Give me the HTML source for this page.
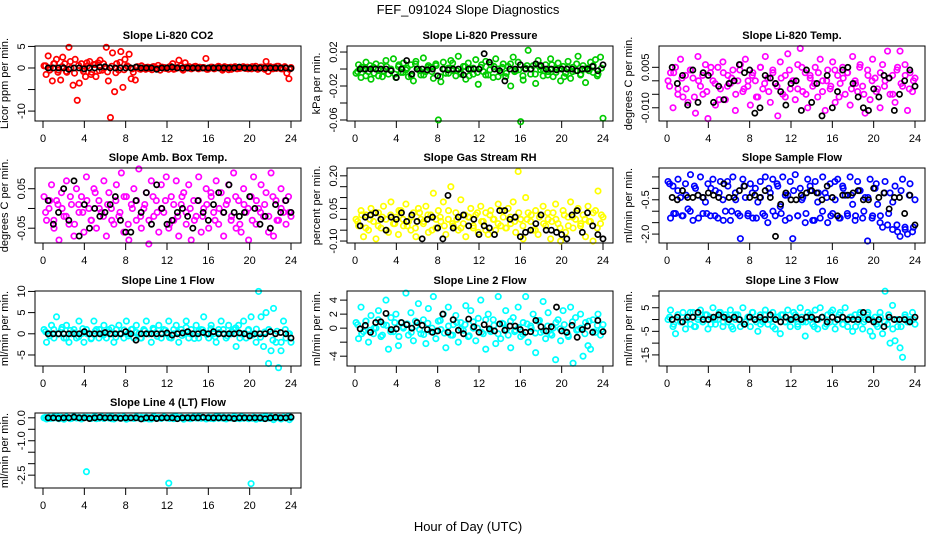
<!DOCTYPE html>
<html><head><meta charset="utf-8"><style>
body{margin:0;background:#fff;}
svg{display:block;font-family:"Liberation Sans",sans-serif;}
</style></head><body>
<svg id="chart" width="936" height="540" viewBox="0 0 936 540" xmlns="http://www.w3.org/2000/svg">
<rect x="0" y="0" width="936" height="540" fill="#fff"/>
<text x="468" y="14" font-size="13" text-anchor="middle">FEF_091024  Slope Diagnostics</text>
<text x="468" y="531" font-size="13" text-anchor="middle">Hour of Day (UTC)</text>
</svg>
<script>
// ---- data ----
const xTicks=[0,4,8,12,16,20,24];
const titles=["Slope Li-820 CO2","Slope Li-820 Pressure","Slope Li-820 Temp.","Slope Amb. Box Temp.","Slope Gas Stream RH","Slope Sample Flow","Slope Line 1 Flow","Slope Line 2 Flow","Slope Line 3 Flow","Slope Line 4 (LT) Flow"];
const yTitles=["Licor ppm per min.","kPa per min.","degrees C per min.","degrees C per min.","percent per min.","ml/min per min.","ml/min per min.","ml/min per min.","ml/min per min.","ml/min per min."];
const colors=["#ff0000","#00cc00","#ff00ff","#ff00ff","#ffff00","#0000ff","#00ffff","#00ffff","#00ffff","#00ffff"];
const yTickVals=[[5,0,-5,-10],[0.02,0,-0.02,-0.04,-0.06],[0.005,0,-0.005,-0.01],[0.05,0,-0.05],[0.2,0.15,0.1,0.05,0,-0.05,-0.1],[0.5,0,-0.5,-1,-1.5,-2],[10,5,0,-5],[4,2,0,-2,-4],[10,5,0,-5,-10,-15],[0,-0.5,-1,-1.5,-2,-2.5]];
const yTickLabels=[["5","0","","-10"],["0.02","","-0.02","","-0.06"],["0.005","","","-0.010"],["0.05","","-0.05"],["0.20","","","0.05","","","-0.10"],["","","-0.5","","","-2.0"],["10","5","0","-5"],["4","2","0","","-4"],["","5","","-5","","-15"],["0.0","","-1.0","","","-2.5"]];
const yLims=[[5.1,-12.3],[0.0271,-0.0612],[0.0129,-0.0149],[0.1025,-0.0875],[0.236,-0.109],[0.89,-2.39],[10.1,-7.6],[5.3,-5.4],[12.1,-19.7],[0.21,-3.06]];
const scales=[1,0.001,0.001,0.01,0.01,0.1,1,0.1,1,0.01];

const c1=[0.5,-1.5,2.8,0,-3,1,2,-0.5,-2.8,2.5,1,-1,4.8,0,-4,2,-7.5,-3.5,1,-0.8,-2,0.5,1.5,-1,0.8,-2,1.2,1.8,-0.5,0,4.8,-3,-11.5,3.5,-5.5,1,-0.5,3.8,-4.5,2,0.5,3.2,-2.5,-1,-2.8,0.3,-0.2,0.5,0,-0.3,0.2,0.1,-0.4,0.3,0,0.6,-0.5,0.2,0.1,0,-0.3,0.4,1,-0.2,0,1.8,0.5,-0.5,1.2,0,0.3,-0.2,0,0.4,-0.1,0.2,0,0.1,2.2,-0.3,0,0.2,-0.2,0.1,0.4,0,-0.5,0.3,0.1,-0.4,0.2,0,0.3,-0.2,0.1,0,0.3,-0.1,0.2,0,-0.2,0.1,0.4,-0.3,0,0.2,-0.1,1.5,-0.8,0.3,0,0.2,-0.1,0.4,0,-0.2,0.3,-1.2,-2.5,0.1];
const c2=[-5,5,-10,0,8,-3,-12,2,6,-8,4,-2,10,-6,0,12,-10,3,-4,7,-1,-9,5,-14,9,0,-7,13,-3,4,2,-11,6,-60,-15,8,-5,1,10,-2,-8,15,-4,3,-12,7,0,-6,11,-18,2,-3,9,-7,5,-10,12,0,-4,6,-9,3,-20,14,-2,8,-62,-13,1,22,-6,4,-17,10,-1,-8,5,-3,12,-9,0,7,-14,3,-5,9,-11,2,-2,15,-7,4,-16,1,8,-4,11,-6,14,-58];
const c3=[0,3,-10,5,-3,8,-6,2,-8,4,1,-12,9,-2,-5,6,-14,3,0,-9,5,-3,7,-7,2,-1,4,-11,0,6,-4,8,-2,-9,3,0,-6,5,-3,9,1,-8,4,-1,-13,7,-5,2,10,-3,0,-7,6,12,-4,3,-10,1,-2,5,-6,8,0,-11,4,-3,7,-8,2,-1,5,-5,3,-9,9,0,-4,6,-2,-12,4,-7,8,1,-3,-10,6,0,11,-5,2,-8,5,11,-2,6,-11,3,-4,1];
const c4=[3,-3,0,6,-5,2,-8,4,-2,7,-4,1,-7,5,-1,3,-6,8,0,-3,5,-5,2,-1,7,-7,4,0,-4,6,-2,9,-6,3,-8,1,5,-3,10,-5,0,4,-9,7,-2,2,-6,6,-1,8,-5,3,-3,7,-7,1,4,-4,6,-8,2,-2,8,-6,0,5,-5,3,-1,7,-4,4,-7,1,6,-3,9,-5,2,-6,5,-1,-8,3,8,-4,0,6,-2,4,-6,9,-7,2,-3,5,-1,-4,3,-2];
const c5=[0,-3,4,-8,2,-5,5,-1,-9,3,-4,6,0,-6,8,-2,1,-7,4,-3,7,-1,-5,3,-8,5,0,-2,6,-6,2,12,-4,4,-1,8,-7,0,15,-3,3,-5,9,-2,-8,1,5,-4,2,-6,6,-1,3,-7,4,0,-5,7,-3,1,-4,5,-2,8,-6,22,0,-9,10,3,-1,-5,4,-7,2,6,-3,0,-9,3,7,-2,-10,4,-6,1,8,-4,0,5,-3,2,-8,6,-1,-10,4,13,-2,1];
const c6=[3,-13,1,-11,4,-4,-12,2,-9,6,-14,0,-3,5,-11,-6,2,-12,4,-1,-13,3,-5,-10,1,-14,5,-2,-11,-22,4,-4,-12,2,-13,0,-6,3,-11,5,-15,-2,4,-12,1,-8,5,-14,-3,3,-22,6,-12,0,-4,-15,4,-1,-14,3,-6,-13,5,-2,-15,2,-11,-5,4,-13,1,-3,-12,5,-7,-14,3,-1,-13,-4,-23,4,-12,0,-7,-15,-17,3,-16,-2,-18,1,-19,-21,4,-17,-20,2,-19,-5];
const c7=[1,-2,0,2,-1,4,0,1,-1,2,-2,0,1,-1,3,0,-2,1,0,-1,3,1,-1,0,2,-1,1,0,-2,1,2,0,-1,3,0,1,-1,2,0,-1,1,3,0,-2,1,0,2,-1,1,0,3,-1,0,2,-2,1,0,3,-1,1,0,2,-1,1,4,0,-1,2,0,-2,1,3,0,-1,2,0,1,-3,2,0,3,-1,1,4,0,-2,10,4,-3,5,-7,-4,6,-2,-8,-4,3,-1,0,-2];
const c8=[8,-15,30,-5,10,-20,18,-8,0,25,-12,5,40,-30,15,-5,20,-25,8,0,50,-10,22,-18,3,35,-8,12,-22,28,-5,45,-15,10,-2,20,-28,30,-10,5,18,-20,8,-3,32,-12,25,0,-18,14,40,-8,-30,20,-5,12,-22,45,-15,6,25,-10,-28,15,-3,30,-12,8,45,-20,3,20,-35,10,-6,38,-15,22,-8,0,-45,12,-18,25,-5,-10,30,-50,15,-2,20,-40,8,-25,-30,12,-6,20,-10,5];
const c9=[0,4,-3,-6,2,-1,3,-4,1,-2,3,-3,0,4,-1,2,-4,1,5,-2,0,3,-3,2,-1,4,-4,0,2,-3,5,-1,1,-3,3,0,-5,2,-1,4,-2,0,3,-4,1,-6,2,-1,4,-3,0,2,-3,5,-1,-7,3,0,-2,4,-4,5,1,-3,2,-1,4,-4,0,3,-2,5,-3,1,-5,2,-1,3,-4,0,2,-5,-7,1,-3,3,-6,12,-2,-10,6,-9,-3,-12,-16,2,-1,0,3,-2];
const c10=[0,-5,3,-2,5,0,-4,2,-6,4,0,-3,6,-1,2,-5,3,-235,1,-2,4,-4,0,5,-3,2,-1,6,-5,0,3,-2,4,-6,1,0,-3,5,-1,2,-4,3,0,-5,6,-2,1,-3,4,0,-285,2,-4,5,-1,3,-6,0,2,-3,4,-1,5,-2,0,-5,3,1,-4,6,-2,0,3,-5,2,-1,4,-3,0,5,-2,1,-4,-287,3,-6,0,2,-3,5,-1,4,-8,0,2,-5,3,-1,6,0];
// dense core band readings
const b1=[0.5,-0.5,1,-1,0.3,-0.8,1.5,-1.2,0.6,-0.3,1.2,-1.5,0.8,-0.6,1,-0.9,0.4,-1.1,1.3,-0.4,0.3,-0.2,0.2,-0.3,0.1,-0.1,0.3,-0.2,0.2,-0.1,0.3,-0.3,0.1,-0.2,0.2,-0.1,0.3,-0.2,0.1,-0.3,0.2,-0.1,0.3,-0.2,0.1,-0.3,0.2,-0.1,0.2,-0.2,0.3,-0.1,0.2,-0.3,0.1,-0.2,0.4,-0.2,0.1,-0.3];
const b2=[-3,2,-8,4,-5,0,-9,3,-1,-6,5,-4,1,-8,6,-2,-7,2,-3,4,-9,0,-5,7,-2,-6,3,-8,1,-4,5,-7,-1,3,-9,2,-5,6,-3,-1,-8,4,0,-6,3,-2,-7,5,-4,1,-9,2,-3,6,-6,0,-2,4,-8,1];
const b3=[-2,3,-5,1,-3,4,-6,0,2,-4,5,-1,-7,3,-2,1,-5,4,-3,0,2,-6,5,-1,-4,3,-2,1,-6,4,0,-3,5,-5,2,-1,3,-4,0,-2,4,-6,1,3,-3,-1,5,-5,2,0,-4,3,-2,1,-5,4,-1,2,-3,0];
const b4=[-1,2,-3,1,0,-2,3,-4,1,-1,2,-3,4,0,-2,1,-3,2,-1,3,-4,0,2,-2,1,-3,3,-1,0,2,-4,1,-2,3,-1,0,-3,2,-2,1,4,-3,0,-1,2,-2,3,-4,1,0,-3,2,-1,1,-2,3,-3,0,2,-1];
const b5=[-1,2,-4,0,3,-3,1,-5,2,-2,4,0,-3,1,-4,3,-1,2,-5,0,1,-3,4,-2,0,-4,2,1,-3,3,-1,-5,2,0,-2,4,-4,1,-1,3,-3,0,2,-5,1,-2,3,-1,0,-4,2,-3,1,4,-2,0,-1,3,-4,2];
const b6=[2,-11,-1,-12,-3,-10,1,-13,-4,-11,0,-12,-2,-14,3,-10,-5,-12,1,-11,-2,-13,-4,-12,0,-10,2,-11,-3,-13,-1,-12,-5,-11,1,-14,-2,-10,-4,-12,3,-13,0,-11,-3,-12,-1,-10,-4,-13,2,-12,-2,-11,-6,-16,-1,-18,-3,-17];
const b7=[0.5,-0.5,1,0,1.5,-1,0.8,0.2,-0.7,1.2,0,-1.2,0.6,1,-0.3,0.4,1.4,-0.8,0.1,0.9,-0.5,1.1,0.3,-1,0.7,0,1.3,-0.6,0.2,0.8,-0.9,1,0.4,-0.4,1.5,0,-1.1,0.6,0.9,-0.2,1.2,-0.7,0.3,1,-0.5,0.5,1.4,-1,0.1,0.8,-0.3,1.1,-0.8,0.4,1,-1.5,0.6,-2,1,0];
const b8=[5,-8,10,-3,0,12,-10,4,-5,8,-12,2,6,-6,10,-2,-9,7,0,-4,11,-7,3,-10,8,-1,5,-11,9,0,-6,12,-3,4,-8,7,-2,10,-5,1,-9,6,0,-7,11,-4,3,-10,8,-1,5,-12,9,-3,0,-8,10,-5,4,-2];
const b9=[1,-2,2,-1,0,3,-3,1,-1,2,-2,0,3,-1,1,-3,2,0,-2,1,3,-1,-2,2,0,-3,1,2,-1,0,3,-2,1,-1,2,-3,0,1,-2,3,-1,2,-2,0,1,-3,2,-1,3,0,-2,1,-1,2,-4,0,-3,1,-1,0];
const b10=[2,-3,0,4,-2,1,-4,3,0,-1,2,-3,5,-2,0,3,-4,1,-1,2,-3,0,4,-2,1,-5,3,0,-1,2,-3,4,-2,0,1,-4,3,-1,2,0,-3,1,4,-2,0,-1,3,-4,2,0,-2,1,-3,5,-1,0,2,-4,1,-8];
const k1=[0,0,0,0,-0.3,0,0,-0.2,0,0,0.2,0.3,0,0,0,0,0,0.2,0,0,0,-0.3,0,0,0.2,0,0,0,0,0,0,0,0,0,0,0,0,0.2,0,0,0,0,0,0,0,0,0,-0.1];
const k2=[0,0,0,0,0,0,-2,-10,0,10,-6,0,0,-1,0,-8,0,-1,0,0,-7,0,0,0,18,8,0,-2,-14,0,0,5,0,0,6,4,0,0,-1,0,0,0,-2,0,0,3,-2,5];
const k3=[5,-1,2,-9,4,-8,3,2,-8,-2,-7,-1,0,6,3,4,-12,-10,2,1,-1,-4,-9,-1,0,-11,4,-8,-1,-13,2,-10,-4,4,5,-1,-6,-10,-11,-3,-6,2,1,-11,-5,0,4,-2];
const k4=[2,-4,-1,5,-3,7,-7,1,-5,0,-2,-1,1,3,-3,-6,-6,2,-1,4,-4,6,0,-4,-3,-1,0,-2,-5,2,-1,-3,1,4,-1,6,-1,-2,-1,3,0,-4,-2,-5,1,-1,2,-1];
const k5=[-3,1,2,3,0,-5,1,0,3,-1,2,-1,-9,0,1,-4,-9,11,-4,1,2,-3,0,-7,-3,-4,-7,4,4,0,1,-8,-6,-5,-2,2,-5,-5,-6,-7,-9,2,4,-6,3,-3,-7,-9];
const k6=[-4,-5,-1,-4,-4,-3,-4,-2,-3,-4,2,-4,-4,-1,1,-4,-3,-4,-1,-4,-21,-7,-2,-5,-5,-3,-2,-1,-2,-5,1,-4,-12,-3,-3,-2,-1,-5,-5,0,-4,-2,-9,-4,-4,-11,-3,-16];
const k7=[0,0,0,0,0,0,0,0.5,0,0,0,0.3,0,0,0,0.5,0,-1.5,0,0,0,0,0,0.2,-0.3,0,0.2,0.5,0,0,0.3,0,0.5,0,0,0,0,0.2,0,-0.5,0,0,0,0.5,0,0.3,0,-1];
const k8=[-1,4,-6,8,9,21,-2,-1,8,5,0,8,4,-2,-6,-4,20,-6,12,-3,-8,13,2,-6,5,-1,-4,6,-3,3,3,-2,-6,-5,11,2,-4,2,30,-4,-6,4,-13,-2,3,-6,11,-5];
const k9=[0,1,-1,1,1,3,0,0,1,2,1,0,1,0,-2,1,0,1,0,2,0,-1,1,0,1,0,1,1,0,1,-1,1,0,1,0,0,0,3,0,-1,0,-3,1,0,0,0,-1,1];
const k10=[0,0,-2,0,0,3,0,0,-3,0,2,0,0,0,-2,0,0,0,-5,0,0,-3,0,0,0,-4,0,0,0,0,2,0,0,0,0,0,-3,0,0,0,0,0,-4,0,2,0,0,3];
const colorSeries=[c1,c2,c3,c4,c5,c6,c7,c8,c9,c10];
const bandSeries=[b1,b2,b3,b4,b5,b6,b7,b8,b9,b10];
const blackSeries=[k1,k2,k3,k4,k5,k6,k7,k8,k9,k10];

// ---- drawing ----
const NS="http://www.w3.org/2000/svg";
const svg=document.getElementById("chart");
const colX=[35,347,659], rowY=[46,168,291,413], W=266, H=75;
function mk(tag,attrs,parent){const e=document.createElementNS(NS,tag);for(const k in attrs)e.setAttribute(k,attrs[k]);parent.appendChild(e);return e;}
function drawPanel(p){
  const bx=colX[p%3], by=rowY[Math.floor(p/3)];
  const g=mk("g",{},svg);
  
  
  const xs=h=>bx+8+h*(W-18)/24;
  const [y0,y1]=yLims[p];
  const ys=v=>by+(y0-v)/(y0-y1)*H;
  const t=mk("text",{x:bx+W/2,y:by-7,"font-size":11,"font-weight":"bold","text-anchor":"middle"},g);
  t.textContent=titles[p];
  
  
  const yt=mk("text",{transform:`translate(${bx-27},${by+H/2}) rotate(-90)`,"font-size":11,"text-anchor":"middle"},g);
  yt.textContent=yTitles[p];
  
  
  const ax=mk("g",{stroke:"#000","stroke-width":1},g);
  
  
  xTicks.forEach(h=>{
    mk("line",{x1:xs(h),x2:xs(h),y1:by+H,y2:by+H+7},ax);
    const l=mk("text",{x:xs(h),y:by+H+21,"font-size":11,"text-anchor":"middle",stroke:"none"},g);
    l.textContent=h;
    
    
  });
  const ay=mk("g",{stroke:"#000","stroke-width":1},g);
  
  
  yTickVals[p].forEach((v,i)=>{
    const y=ys(v);
    mk("line",{x1:bx-7,x2:bx,y1:y,y2:y},ay);
    if(yTickLabels[p][i]){
      const l=mk("text",{transform:`translate(${bx-10},${y}) rotate(-90)`,"font-size":11,"text-anchor":"middle",stroke:"none"},g);
      l.textContent=yTickLabels[p][i];
      
      
    }
  });
  const pc=mk("g",{fill:"none",stroke:colors[p],"stroke-width":1.7},g);
  
  
  const cs=colorSeries[p], n=cs.length;
  cs.forEach((v,i)=>{
    const c=mk("circle",{cx:xs(0.1+i*23.9/(n-1)),cy:ys(v*scales[p]),r:2.7},pc);
    
    
  });
  const bs=bandSeries[p], m=bs.length;
  bs.forEach((v,i)=>{
    const c=mk("circle",{cx:xs(0.25+i*23.6/(m-1)),cy:ys(v*scales[p]),r:2.7},pc);
    
    
  });
  const ks=blackSeries[p];
  const pk=mk("g",{fill:"none",stroke:"#000","stroke-width":1.7},g);
  
  
  ks.forEach((v,i)=>{
    const c=mk("circle",{cx:xs(0.5*(i+1)),cy:ys(v*scales[p]),r:2.6},pk);
    
    
  });
  const b=mk("rect",{x:bx,y:by,width:W,height:H,fill:"none",stroke:"#000","stroke-width":1},g);
  
  
}
for(let p=0;p<10;p++)drawPanel(p);
</script>
</body></html>
